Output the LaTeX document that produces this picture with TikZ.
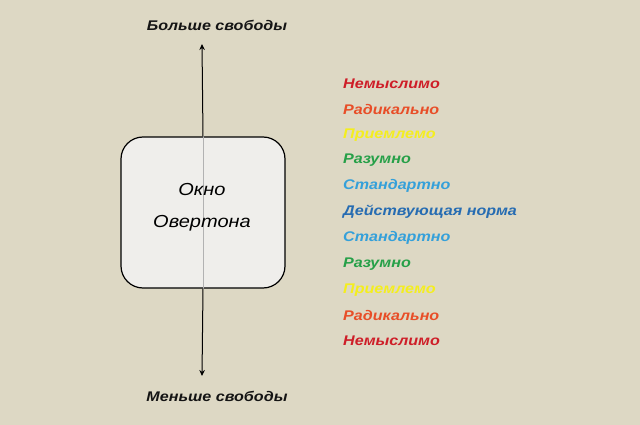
\documentclass[tikz,border=0pt]{standalone}
\usepackage{fontspec}
\setmainfont{Liberation Sans}
\newfontfamily\widesans[FakeStretch=1.15]{Liberation Sans}
\definecolor{bg}{RGB}{221,216,196}
\definecolor{boxfill}{RGB}{239,238,235}
\definecolor{cRed}{RGB}{206,30,40}
\definecolor{cOrange}{RGB}{232,78,40}
\definecolor{cYellow}{RGB}{244,238,30}
\definecolor{cGreen}{RGB}{38,160,72}
\definecolor{cLBlue}{RGB}{52,160,218}
\definecolor{cDBlue}{RGB}{38,108,178}
\tikzset{
  item/.style={anchor=west, inner sep=0pt, font=\widesans\fontsize{14}{16}\selectfont\bfseries\itshape},
  axislabel/.style={inner sep=0pt, font=\widesans\fontsize{14}{17}\selectfont\bfseries\itshape, text=black!92},
  windowbox/.style={draw=black, line width=1.2pt, fill=boxfill, rounded corners=22pt,
    minimum width=164pt, minimum height=151pt, inner sep=0pt},
  boxtext/.style={inner sep=0pt, font=\widesans\fontsize{17.4}{20}\selectfont\itshape, text=black},
  axisarrow/.style={-{Stealth[length=6pt,width=5.5pt]}, line width=1pt, black}
}
\usetikzlibrary{arrows.meta}
\begin{document}
\begin{tikzpicture}[x=1pt,y=-1pt]
\fill[bg] (0,0) rectangle (640,425);
\useasboundingbox (0,0) rectangle (640,425);
\node[windowbox] (box) at (203,212.5) {};
\draw[black!30, line width=1pt] (box.north) -- (box.south);
\coordinate (top) at (202,44);
\coordinate (bot) at (202,376);
\draw[axisarrow] (box.north) -- (top);
\draw[axisarrow] (box.south) -- (bot);
\node[boxtext] (t1) at (202,190) {Окно};
\node[boxtext] (t2) at (202,223) {Овертона};
\node[axislabel] (more) at (217,25) {Больше свободы};
\node[axislabel] (less) at (217,396) {Меньше свободы};
\node[item, text=cRed] (i1) at (343,84) {Немыслимо};
\node[item, text=cOrange] (i2) at (343,109.5) {Радикально};
\node[item, text=cYellow] (i3) at (343,135.5) {Приемлемо};
\node[item, text=cGreen] (i4) at (343,160.5) {Разумно};
\node[item, text=cLBlue] (i5) at (343,186) {Стандартно};
\node[item, text=cDBlue] (i6) at (343,212) {Действующая норма};
\node[item, text=cLBlue] (i7) at (343,238) {Стандартно};
\node[item, text=cGreen] (i8) at (343,264) {Разумно};
\node[item, text=cYellow] (i9) at (343,290) {Приемлемо};
\node[item, text=cOrange] (i10) at (343,315) {Радикально};
\node[item, text=cRed] (i11) at (343,341) {Немыслимо};
\end{tikzpicture}
\end{document}
